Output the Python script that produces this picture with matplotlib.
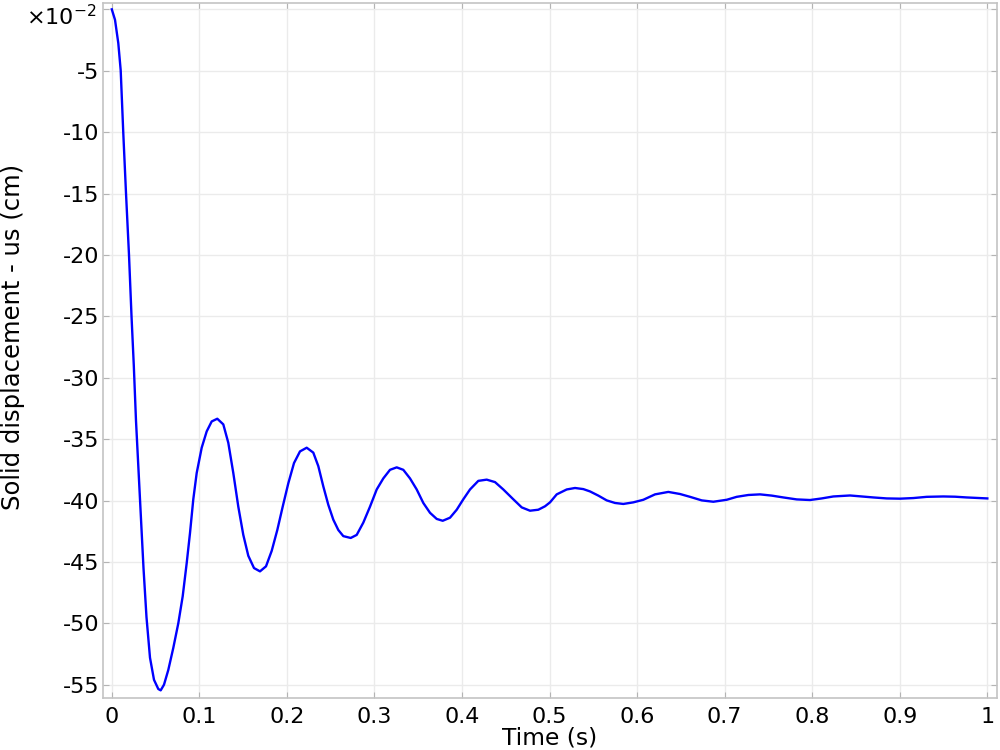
import matplotlib
matplotlib.use("Agg")
import matplotlib.pyplot as plt

# solid displacement us, values in units of 1e-2 cm
time_s = [0.0, 0.00366, 0.00742, 0.01017, 0.01314, 0.01622, 0.01965, 0.0225,
          0.02513, 0.02764, 0.0305, 0.03335, 0.03621, 0.03963, 0.04363, 0.0482,
          0.05311, 0.05585, 0.05962, 0.06453, 0.07025, 0.07596, 0.08098, 0.08555,
          0.08932, 0.09309, 0.09697, 0.10268, 0.1084, 0.11411, 0.1205, 0.12736,
          0.13307, 0.13878, 0.14449, 0.1502, 0.15591, 0.16242, 0.16927, 0.17613,
          0.18264, 0.18904, 0.1952, 0.2016, 0.20811, 0.21496, 0.22262, 0.23015,
          0.23587, 0.24158, 0.24729, 0.253, 0.25871, 0.26442, 0.27287, 0.27973,
          0.28727, 0.29492, 0.30257, 0.31011, 0.31776, 0.32541, 0.33295, 0.34061,
          0.34826, 0.3558, 0.36345, 0.3711, 0.37796, 0.3863, 0.39395, 0.40149,
          0.40914, 0.41862, 0.42821, 0.43769, 0.44717, 0.45859, 0.46819, 0.47767,
          0.48715, 0.4948, 0.50051, 0.50817, 0.51959, 0.52907, 0.53855, 0.5462,
          0.55568, 0.56528, 0.57476, 0.58424, 0.59566, 0.60708, 0.62045, 0.63564,
          0.649, 0.66042, 0.67379, 0.68704, 0.70234, 0.71376, 0.72701, 0.74038,
          0.75374, 0.767, 0.7823, 0.79749, 0.81085, 0.8241, 0.84318, 0.85654,
          0.86979, 0.8851, 0.90029, 0.91548, 0.93078, 0.94974, 0.96311, 0.97647,
          1.0]
disp = [0.0, -0.85, -2.75, -4.97, -10.1, -14.96, -20.0, -24.95,
        -29.0, -33.5, -37.5, -41.5, -45.5, -49.5, -52.8, -54.6,
        -55.35, -55.46, -55.0, -53.8, -52.0, -50.0, -47.8, -45.1,
        -42.65, -39.9, -37.76, -35.7, -34.37, -33.56, -33.34, -33.8,
        -35.3, -37.76, -40.5, -42.8, -44.5, -45.5, -45.77, -45.36,
        -44.1, -42.4, -40.5, -38.6, -36.95, -36.0, -35.7, -36.1,
        -37.2, -38.85, -40.35, -41.56, -42.4, -42.9, -43.05, -42.8,
        -41.8, -40.5, -39.1, -38.2, -37.5, -37.3, -37.5, -38.2,
        -39.1, -40.2, -41.0, -41.5, -41.65, -41.4, -40.75, -39.9,
        -39.1, -38.4, -38.3, -38.5, -39.1, -39.9, -40.56, -40.83,
        -40.75, -40.47, -40.15, -39.5, -39.1, -38.98, -39.07, -39.26,
        -39.6, -39.99, -40.2, -40.28, -40.15, -39.94, -39.5, -39.3,
        -39.47, -39.7, -39.99, -40.1, -39.94, -39.7, -39.55, -39.5,
        -39.6, -39.75, -39.91, -39.96, -39.83, -39.67, -39.59, -39.67,
        -39.75, -39.83, -39.85, -39.8, -39.7, -39.67, -39.69, -39.75,
        -39.83]

xticks = [0, 0.1, 0.2, 0.3, 0.4, 0.5, 0.6, 0.7, 0.8, 0.9, 1]
xticklabels = ["0", "0.1", "0.2", "0.3", "0.4", "0.5", "0.6", "0.7", "0.8", "0.9", "1"]
yticks = [0, -5, -10, -15, -20, -25, -30, -35, -40, -45, -50, -55]
yticklabels = ["", "-5", "-10", "-15", "-20", "-25", "-30", "-35", "-40", "-45", "-50", "-55"]

fig = plt.figure(figsize=(10, 7.5), dpi=100)
ax = fig.add_axes([0.1033, 0.0697, 0.8934, 0.9267])

ax.plot(time_s, disp, color="#0000ff", lw=1.7, solid_joinstyle="round")

ax.set_xlim(-0.0097, 1.0107)
ax.set_ylim(-56.06, 0.54)
ax.set_xticks(xticks)
ax.set_xticklabels(xticklabels)
ax.set_yticks(yticks)
ax.set_yticklabels(yticklabels)
ax.grid(True, color="#ebebeb", lw=1)
ax.set_axisbelow(True)
ax.tick_params(direction="in", length=4, color="#b4b4b4", labelsize=16,
               top=True, right=True)
ax.tick_params(axis="x", pad=7)
ax.tick_params(axis="y", pad=3)
for s in ax.spines.values():
    s.set_color("#c4c4c4")
    s.set_linewidth(1.2)

fig.text(0.55, 0.016, "Time (s)", fontsize=16.8, ha="center", va="center")
fig.text(0.013, 0.5513, "Solid displacement - us (cm)", fontsize=17.5,
         rotation=90, ha="center", va="center")
fig.text(0.026, 0.967, r"$\times$10$^{-2}$", fontsize=16, ha="left", va="baseline")

fig.savefig("out.png", dpi=100)
